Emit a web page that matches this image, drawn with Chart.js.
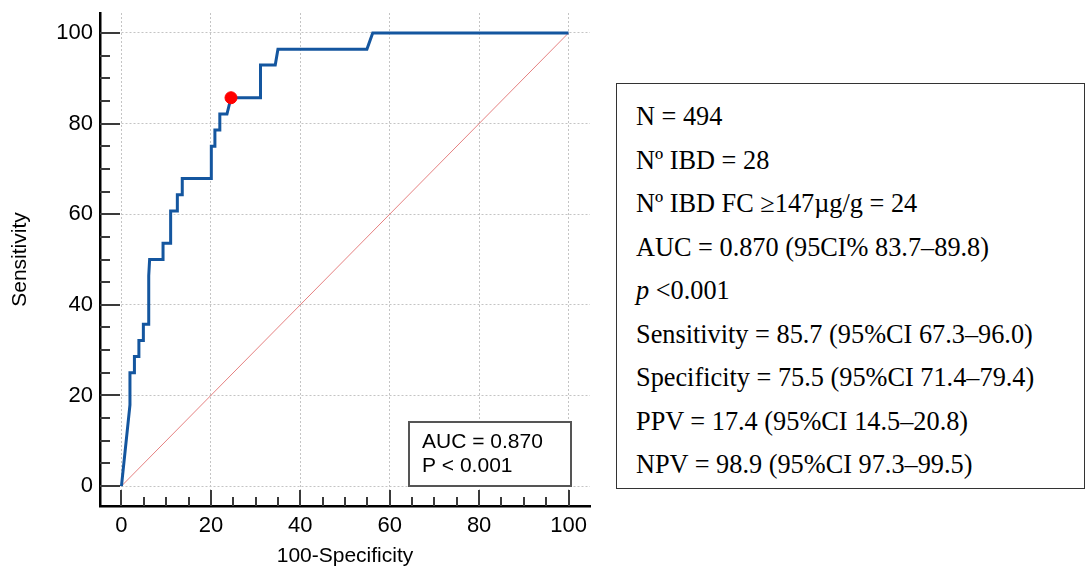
<!DOCTYPE html>
<html>
<head>
<meta charset="utf-8">
<script src="https://cdn.jsdelivr.net/npm/chart.js@4/dist/chart.umd.min.js"></script>
<style>
  body { margin: 0; background: #fff; }
  #wrap { position: absolute; left: 0; top: 0; width: 600px; height: 570px; }
  #stats {
    position: absolute; left: 616px; top: 83px; width: 448px; height: 393px;
    border: 1.5px solid #333; padding: 11px 0 0 19px;
    font-family: 'Liberation Serif', 'Times New Roman', serif; font-size: 26.3px; color: #000;
  }
  #stats div { line-height: 43.5px; height: 43.5px; white-space: nowrap; }
</style>
</head>
<body>
<div id="wrap"><canvas id="roc"></canvas></div>
<div id="stats">
  <div>N = 494</div>
  <div>Nº IBD = 28</div>
  <div>Nº IBD FC ≥147µg/g = 24</div>
  <div>AUC = 0.870 (95CI% 83.7–89.8)</div>
  <div><i>p</i> &lt;0.001</div>
  <div>Sensitivity = 85.7 (95%CI 67.3–96.0)</div>
  <div>Specificity = 75.5 (95%CI 71.4–79.4)</div>
  <div>PPV = 17.4 (95%CI 14.5–20.8)</div>
  <div>NPV = 98.9 (95%CI 97.3–99.5)</div>
</div>
<script>
// ROC curve (100-Specificity, Sensitivity)
const rocX = [0, 1.9, 1.9, 2.9, 2.9, 3.9, 3.9, 4.9, 4.9, 6.1, 6.1, 6.3, 9.3, 9.3, 11.0, 11.0,
              12.5, 12.5, 13.6, 13.6, 20.1, 20.1, 20.9, 20.9, 22.0, 22.0, 23.6, 24.5,
              31.1, 31.1, 34.4, 35.0, 54.9, 56.2, 100];
const rocY = [0, 17.9, 25, 25, 28.6, 28.6, 32.1, 32.1, 35.7, 35.7, 46.4, 50, 50, 53.6, 53.6, 60.7,
              60.7, 64.3, 64.3, 67.9, 67.9, 75, 75, 78.6, 78.6, 82.1, 82.1, 85.7,
              85.7, 92.9, 92.9, 96.4, 96.4, 100, 100];

// reference diagonal
const diagX = [0, 100];
const diagY = [0, 100];

// optimal cut-off point
const cutX = [24.5];
const cutY = [85.7];

const tickVals = [0, 20, 40, 60, 80, 100];
const minorVals = [0, 5, 10, 15, 20, 25, 30, 35, 40, 45, 50, 55, 60, 65, 70, 75, 80, 85, 90, 95, 100];

const aucLines = ['AUC = 0.870', 'P < 0.001'];

Chart.defaults.font.family = "'Liberation Sans', Arial, sans-serif";
Chart.defaults.color = '#000';

const toPts = (xs, ys) => xs.map((v, i) => ({ x: v, y: ys[i] }));

// inward ticks + AUC box
const decor = {
  id: 'decor',
  afterDraw(chart) {
    const { ctx, chartArea, scales: { x, y } } = chart;
    ctx.save();
    ctx.strokeStyle = '#3a3a3a';
    ctx.lineWidth = 2;
    minorVals.forEach(v => {
      const major = v % 20 === 0;
      const px = Math.round(x.getPixelForValue(v));
      ctx.beginPath();
      ctx.moveTo(px, chartArea.bottom);
      ctx.lineTo(px, chartArea.bottom - (major ? 16 : 9));
      ctx.stroke();
      const py = Math.round(y.getPixelForValue(v));
      ctx.beginPath();
      ctx.moveTo(chartArea.left, py);
      ctx.lineTo(chartArea.left + (major ? 20 : 10), py);
      ctx.stroke();
    });

    // AUC box
    const bw = 162, bh = 64;
    const bx = chartArea.right - 19 - bw;
    const by = chartArea.bottom - 20 - bh;
    ctx.fillStyle = '#fff';
    ctx.fillRect(bx, by, bw, bh);
    ctx.strokeStyle = '#555';
    ctx.lineWidth = 2;
    ctx.strokeRect(bx, by, bw, bh);
    ctx.fillStyle = '#000';
    ctx.font = "21px 'Liberation Sans', Arial, sans-serif";
    ctx.textBaseline = 'middle';
    aucLines.forEach((t, i) => ctx.fillText(t, bx + 13, by + 20.5 + i * 23.5));
    ctx.restore();
  }
};

new Chart(document.getElementById('roc'), {
  type: 'scatter',
  data: {
    datasets: [
      {
        data: toPts(cutX, cutY),
        pointRadius: 6,
        pointBackgroundColor: '#ff0000',
        pointBorderColor: '#ff0000',
        showLine: false,
        order: 0
      },
      {
        data: toPts(rocX, rocY),
        showLine: true,
        borderColor: '#14569f',
        borderWidth: 3,
        pointRadius: 0,
        tension: 0,
        order: 1
      },
      {
        data: toPts(diagX, diagY),
        showLine: true,
        borderColor: '#e58080',
        borderWidth: 1,
        pointRadius: 0,
        order: 2
      }
    ]
  },
  options: {
    responsive: true,
    maintainAspectRatio: false,
    animation: false,
    layout: { padding: { top: 13, right: 10 } },
    plugins: { legend: { display: false }, tooltip: { enabled: false } },
    scales: {
      x: {
        type: 'linear',
        min: -4.8, max: 104.8,
        afterBuildTicks: axis => { axis.ticks = tickVals.map(v => ({ value: v })); },
        afterFit: s => { s.height = 64; s.paddingLeft = 0; s.paddingRight = 0; },
        ticks: { font: { size: 22 }, padding: 7, maxRotation: 0 },
        grid: { color: '#c4c4c4', lineWidth: 1, drawTicks: false },
        border: { color: '#000', width: 2.5, dash: [2, 2] },
        title: { display: true, text: '100-Specificity', font: { size: 21 }, padding: { bottom: 1 } }
      },
      y: {
        type: 'linear',
        min: -4.4, max: 104.4,
        afterBuildTicks: axis => { axis.ticks = tickVals.map(v => ({ value: v })); },
        afterFit: s => { s.width = 100; s.paddingTop = 0; s.paddingBottom = 0; },
        ticks: { font: { size: 22 }, padding: 7 },
        grid: { color: '#c4c4c4', lineWidth: 1, drawTicks: false },
        border: { color: '#000', width: 2.5, dash: [2, 2] },
        title: { display: true, text: 'Sensitivity', font: { size: 21 }, padding: { top: 8 } }
      }
    }
  },
  plugins: [decor]
});
</script>
</body>
</html>
